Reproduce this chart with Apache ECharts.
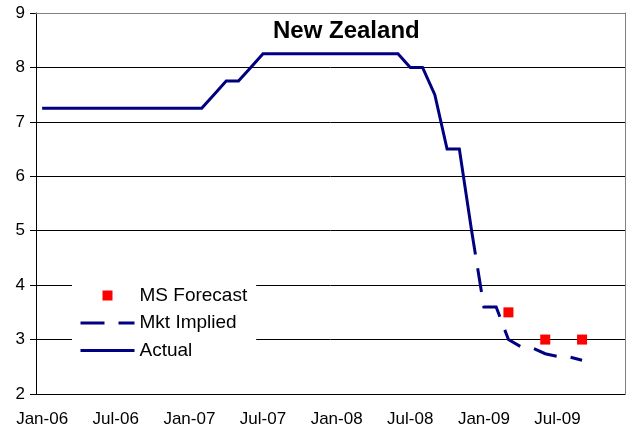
<!DOCTYPE html>
<html>
<head>
<meta charset="utf-8">
<script src="https://cdn.jsdelivr.net/npm/echarts@6/dist/echarts.min.js"></script>
<style>
  html, body { margin: 0; padding: 0; background: #fff; }
  #chart { width: 632px; height: 428px; }
</style>
</head>
<body>
<div id="chart"></div>
<script>
// Monthly category axis, Jan-06 .. Dec-09
const monthNames = ['Jan','Feb','Mar','Apr','May','Jun','Jul','Aug','Sep','Oct','Nov','Dec'];
const years = ['06','07','08','09'];
const months = [];
years.forEach(y => monthNames.forEach(m => months.push(m + '-' + y)));

// Official cash rate, month by month from Jan-06 to Dec-08
const actualValues = [
  7.25, 7.25, 7.25, 7.25, 7.25, 7.25, 7.25, 7.25, 7.25, 7.25, 7.25, 7.25,
  7.25, 7.25, 7.5, 7.75, 7.75, 8.0, 8.25, 8.25, 8.25, 8.25, 8.25, 8.25,
  8.25, 8.25, 8.25, 8.25, 8.25, 8.25, 8.0, 8.0, 7.5, 6.5, 6.5, 5.0
];

// Market-implied path
const mktMonths = ['Dec-08','Jan-09','Feb-09','Mar-09','Apr-09','May-09','Jun-09','Jul-09','Aug-09','Sep-09'];
const mktValues = [5.0, 3.6, 3.6, 3.0, 2.87, 2.84, 2.74, 2.69, 2.68, 2.62];

// MS forecasts
const forecastMonths = ['Mar-09','Jun-09','Sep-09'];
const forecastValues = [3.5, 3.0, 3.0];

const FONT = "'Liberation Sans', Arial, sans-serif";
const NAVY = '#000080';

const chart = echarts.init(document.getElementById('chart'), null, { renderer: 'canvas' });

// legend entries for the line series show only the stroke, no point symbol
const hiddenSymbol = { opacity: 0, color: 'rgba(0,0,0,0)', borderWidth: 0 };

chart.setOption({
  animation: false,
  backgroundColor: '#ffffff',
  textStyle: { fontFamily: FONT, color: '#000' },
  title: {
    text: 'New Zealand',
    left: 273,
    top: 19,
    padding: 0,
    textStyle: { fontFamily: FONT, fontSize: 24, fontWeight: 'bold', color: '#000' }
  },
  grid: { left: 36, right: 7, top: 13, bottom: 34, containLabel: false },
  legend: {
    orient: 'vertical',
    left: 72,
    top: 281,
    padding: [5, 9, 5, 7],
    backgroundColor: '#ffffff',
    itemWidth: 54,
    itemHeight: 14,
    itemGap: 8.5,
    selectedMode: false,
    textStyle: { fontFamily: FONT, fontSize: 19, color: '#000', lineHeight: 19 },
    data: [
      // 10px square centred in a 14px box
      { name: 'MS Forecast', icon: 'path://M-2,-2M12,12M0,0H10V10H0Z', itemStyle: { color: '#ff0000', opacity: 1 } },
      { name: 'Mkt Implied', itemStyle: hiddenSymbol, lineStyle: { width: 3, color: NAVY, type: [24, 14] } },
      { name: 'Actual', itemStyle: hiddenSymbol, lineStyle: { width: 3, color: NAVY } }
    ]
  },
  xAxis: [
    {
      type: 'category',
      data: months,
      boundaryGap: true,
      axisLine: { lineStyle: { color: '#000', width: 1 } },
      axisTick: { interval: 5, length: 5, lineStyle: { color: '#000' } },
      axisLabel: { interval: 5, margin: 17, fontSize: 17, fontFamily: FONT, color: '#000' },
      splitLine: { show: false }
    },
    {
      type: 'category',
      data: months,
      position: 'top',
      z: 3,
      axisLine: { lineStyle: { color: '#808080', width: 1 } },
      axisTick: { show: false },
      axisLabel: { show: false },
      splitLine: { show: false }
    }
  ],
  yAxis: [
    {
      type: 'value',
      min: 2,
      max: 9,
      interval: 1,
      axisLine: { show: true, lineStyle: { color: '#000', width: 1 } },
      axisTick: { show: true, length: 6, lineStyle: { color: '#000' } },
      axisLabel: { margin: 11, fontSize: 17, fontFamily: FONT, color: '#000' },
      splitLine: { show: true, lineStyle: { color: '#000', width: 1 } }
    },
    {
      type: 'value',
      min: 2,
      max: 9,
      interval: 1,
      position: 'right',
      axisLine: { show: true, lineStyle: { color: '#808080', width: 1 } },
      axisTick: { show: false },
      axisLabel: { show: false },
      splitLine: { show: false }
    }
  ],
  series: [
    {
      name: 'Actual',
      type: 'line',
      data: actualValues,
      symbol: 'none',
      z: 3,
      lineStyle: { color: NAVY, width: 3, join: 'miter' },
      itemStyle: { color: NAVY }
    },
    {
      name: 'Mkt Implied',
      type: 'line',
      data: mktMonths.map((m, i) => [m, mktValues[i]]),
      symbol: 'none',
      z: 3,
      lineStyle: { color: NAVY, width: 3, type: [24, 14], join: 'miter' },
      itemStyle: { color: NAVY }
    },
    {
      name: 'MS Forecast',
      type: 'scatter',
      data: forecastMonths.map((m, i) => [m, forecastValues[i]]),
      symbol: 'rect',
      symbolSize: 10,
      z: 4,
      itemStyle: { color: '#ff0000', opacity: 1 }
    }
  ]
});
</script>
</body>
</html>
